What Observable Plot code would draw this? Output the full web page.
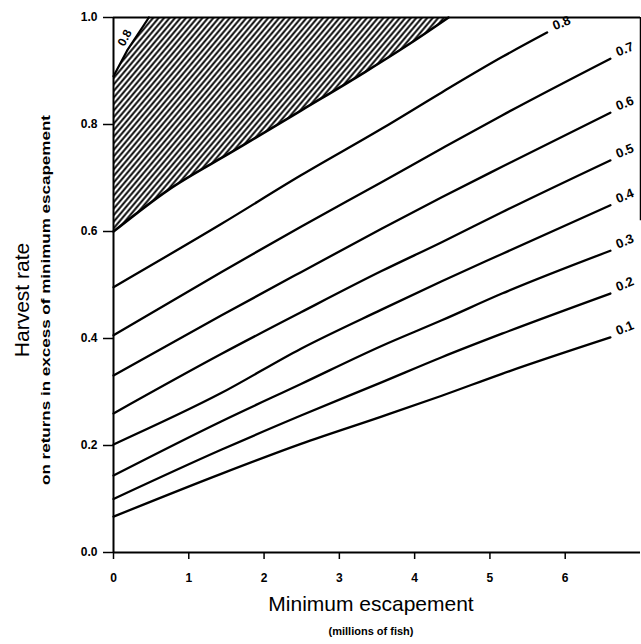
<!DOCTYPE html>
<html>
<head>
<meta charset="utf-8">
<script src="https://cdn.jsdelivr.net/npm/d3@7"></script>
<script src="https://cdn.jsdelivr.net/npm/@observablehq/plot@0.6"></script>
<style>
  html, body { margin: 0; padding: 0; background: #fff; }
  svg { display: block; }
</style>
</head>
<body>
<div id="chart"></div>
<script>
// Contour levels (labels at right end of each line)
const levels = [0.1, 0.2, 0.3, 0.4, 0.5, 0.6, 0.7, 0.8];
// Minimum escapement (millions of fish) where harvest rates were read
const escapement = [0, 1.43, 2.49, 3.56, 4.36, 5.16];
// Last x of each contour (same order as levels)
const endEscapement = [6.6, 6.6, 6.6, 6.6, 6.6, 6.6, 6.6, 5.76];
// Harvest rate along each contour (same order as escapement, then end point)
const h10 = [0.067, 0.147, 0.203, 0.254, 0.293, 0.334, 0.402];
const h20 = [0.100, 0.192, 0.256, 0.318, 0.365, 0.409, 0.484];
const h30 = [0.144, 0.245, 0.315, 0.386, 0.434, 0.484, 0.564];
const h40 = [0.202, 0.298, 0.381, 0.454, 0.507, 0.558, 0.649];
const h50 = [0.260, 0.371, 0.449, 0.526, 0.580, 0.636, 0.733];
const h60 = [0.331, 0.443, 0.524, 0.605, 0.664, 0.721, 0.822];
const h70 = [0.406, 0.524, 0.609, 0.692, 0.755, 0.817, 0.923];
const h80 = [0.496, 0.614, 0.705, 0.792, 0.860, 0.926, 0.972];
const harvestSeries = [h10, h20, h30, h40, h50, h60, h70, h80];

// Hatched (infeasible) region: lower boundary and upper-left boundary
const boundaryX = [0, 0.72, 1.60, 2.49, 3.34, 4.00, 4.45];
const boundaryY = [0.600, 0.677, 0.751, 0.826, 0.898, 0.957, 1.0];
const cornerX = [0.47, 0.18, 0];
const cornerY = [1.0, 0.938, 0.89];
const cornerLabel = "0.8";

const xTicks = [0, 1, 2, 3, 4, 5, 6];
const yTicks = [0, 0.2, 0.4, 0.6, 0.8, 1.0];

// Build tables
const rows = [];
levels.forEach((lv, i) => {
  const xsAll = escapement.concat([endEscapement[i]]);
  xsAll.forEach((x, j) => rows.push({level: lv, x, y: harvestSeries[i][j]}));
});
const ends = levels.map((lv, i) => ({level: lv, x: endEscapement[i], y: harvestSeries[i][harvestSeries[i].length - 1]}));
const boundary = boundaryX.map((x, i) => ({x, y: boundaryY[i]}));
const corner = cornerX.map((x, i) => ({x, y: cornerY[i]}));
const polygon = boundary.concat(corner);

const font = "'Liberation Sans', Arial, Helvetica, sans-serif";

const chart = Plot.plot({
  width: 641,
  height: 644,
  marginLeft: 113,
  marginRight: 1,
  marginTop: 17,
  marginBottom: 92,
  style: {fontFamily: font, background: "#fff", color: "#000"},
  x: {domain: [0, 7], label: null},
  y: {domain: [0, 1], label: null},
  marks: [
    Plot.line(polygon, {x: "x", y: "y", fill: "url(#hatch)", stroke: "none", curve: "linear"}),
    Plot.line(boundary, {x: "x", y: "y", stroke: "#000", strokeWidth: 2.6, curve: "monotone-x"}),
    Plot.line(corner, {x: "x", y: "y", stroke: "#000", strokeWidth: 2.2}),
    Plot.line(rows, {x: "x", y: "y", z: "level", stroke: "#000", strokeWidth: 2.3, curve: "monotone-x"}),
    Plot.text(ends, {x: "x", y: "y", text: d => d3.format(".1f")(d.level), textAnchor: "start", dx: 6, dy: -6, rotate: -22, fontSize: 13, fontWeight: "bold"}),
    Plot.text([cornerLabel], {x: 0.15, y: 0.962, text: d => d, rotate: -62, fontSize: 12, fontWeight: "bold"}),
    Plot.ruleX([0], {stroke: "#000", strokeWidth: 2}),
    Plot.ruleY([0], {stroke: "#000", strokeWidth: 2}),
    Plot.ruleY([1], {stroke: "#000", strokeWidth: 2}),
    Plot.ruleX([7], {y1: 0.62, y2: 1, stroke: "#000", strokeWidth: 1.5}),
    Plot.axisX({ticks: xTicks, tickFormat: d3.format("d"), tickSize: 7, tickPadding: 14, fontSize: 12, fontWeight: "bold", strokeWidth: 1.5}),
    Plot.axisY({ticks: yTicks, tickFormat: d3.format(".1f"), tickSize: 10, tickPadding: 6, fontSize: 12, fontWeight: "bold", strokeWidth: 1.5}),
    Plot.text(["Harvest rate"], {frameAnchor: "left", textAnchor: "middle", dx: -91, dy: 15, rotate: -90, fontSize: 21}),
    Plot.text(["on returns in excess of minimum escapement"], {frameAnchor: "left", textAnchor: "middle", dx: -68, dy: 15, rotate: -90, fontSize: 13, fontWeight: "bold", className: "ysub"}),
    Plot.text(["Minimum escapement"], {frameAnchor: "bottom", dx: -6, dy: 58, fontSize: 21}),
    Plot.text(["(millions of fish)"], {frameAnchor: "bottom", dx: -6, dy: 82, fontSize: 11, fontWeight: "bold"})
  ]
});

const svg = d3.select(chart);
svg.selectAll(".ysub text").attr("textLength", 370).attr("lengthAdjust", "spacingAndGlyphs");
const defs = svg.insert("defs", ":first-child");
const pat = defs.append("pattern")
  .attr("id", "hatch")
  .attr("patternUnits", "userSpaceOnUse")
  .attr("width", 4.2)
  .attr("height", 10)
  .attr("patternTransform", "rotate(40)");
pat.append("rect").attr("width", 4.2).attr("height", 10).attr("fill", "#fff");
pat.append("line").attr("x1", 2.1).attr("x2", 2.1).attr("y1", 0).attr("y2", 10)
  .attr("stroke", "#000").attr("stroke-width", 1.9);

document.getElementById("chart").appendChild(chart);
</script>
</body>
</html>
